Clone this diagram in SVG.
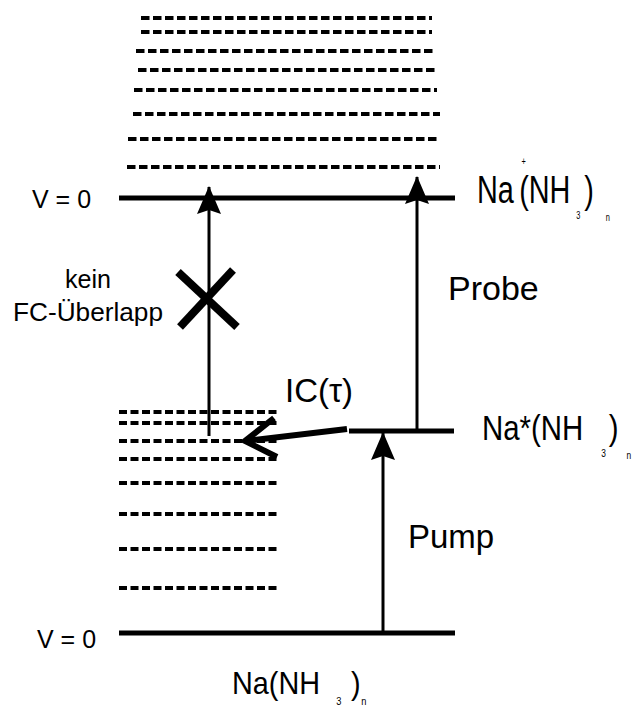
<svg xmlns="http://www.w3.org/2000/svg" width="635" height="706" viewBox="0 0 635 706">
<style>
text{font-family:"Liberation Sans",Arial,Helvetica,sans-serif;fill:#000}
.lvl{stroke:#000;stroke-width:5;fill:none}
.dash{stroke:#000;stroke-width:4;stroke-dasharray:8.5 3.5;fill:none}
.dashs{stroke:#000;stroke-width:4;stroke-dasharray:8 3.5;fill:none}
.arr{stroke:#000;stroke-width:3;fill:none}
.thick{stroke:#000;stroke-width:6;fill:none;stroke-linejoin:miter}
.cross{stroke:#000;stroke-width:8;fill:none}
.sub{font-size:10px}
</style>
<defs>
<marker id="ah" markerUnits="userSpaceOnUse" viewBox="0 0 28 24" refX="27" refY="12" markerWidth="28" markerHeight="24" orient="auto">
<path d="M0,0 L28,12 L0,24 L4,12 z" fill="#000"/>
</marker>
</defs>
<rect width="635" height="706" fill="#fff"/>
<g id="ion-vibrational-continuum">
<line class="dash" x1="141" y1="18" x2="432" y2="18"/>
<line class="dash" x1="141" y1="32" x2="432" y2="32"/>
<line class="dash" x1="136" y1="51" x2="435" y2="51"/>
<line class="dash" x1="138" y1="70" x2="435" y2="70"/>
<line class="dash" x1="134" y1="90" x2="437" y2="90"/>
<line class="dash" x1="133" y1="114" x2="440" y2="114"/>
<line class="dash" x1="128" y1="139" x2="440" y2="139"/>
<line class="dash" x1="127" y1="167" x2="440" y2="167"/>
</g>
<g id="ion-level">
<line class="lvl" x1="119" y1="198" x2="455" y2="198"/>
<text x="32" y="208" font-size="25">V = 0</text>
<text transform="translate(477,203) scale(0.74,1)" font-size="39"><tspan x="0" y="0">Na</tspan><tspan x="60" y="-38" class="sub">+</tspan><tspan x="57" y="0">(NH</tspan><tspan x="134" y="16" class="sub">3</tspan><tspan x="145" y="0">)</tspan><tspan x="174" y="18" class="sub">n</tspan></text>
</g>
<g id="ground-vibrational-levels">
<line class="dashs" x1="119" y1="412" x2="280" y2="412"/>
<line class="dashs" x1="119" y1="423" x2="280" y2="423"/>
<line class="dashs" x1="119" y1="441" x2="280" y2="441"/>
<line class="dashs" x1="119" y1="459" x2="280" y2="459"/>
<line class="dashs" x1="119" y1="483" x2="280" y2="483"/>
<line class="dashs" x1="119" y1="514" x2="280" y2="514"/>
<line class="dashs" x1="119" y1="549" x2="280" y2="549"/>
<line class="dashs" x1="119" y1="588" x2="280" y2="588"/>
</g>
<g id="excited-level">
<line class="lvl" x1="349" y1="431" x2="454" y2="431"/>
<text transform="translate(482,440) scale(0.84,1)" font-size="35"><tspan x="0" y="0">Na*(NH</tspan><tspan x="142" y="17" class="sub">3</tspan><tspan x="151" y="0">)</tspan><tspan x="172" y="19" class="sub">n</tspan></text>
</g>
<g id="ground-level">
<line class="lvl" x1="119" y1="633" x2="455" y2="633"/>
<text x="37" y="648" font-size="25">V = 0</text>
<text transform="translate(232,694) scale(0.93,1)" font-size="31"><tspan x="0" y="0">Na(NH</tspan><tspan x="112" y="11" class="sub">3</tspan><tspan x="128" y="0">)</tspan><tspan x="139" y="11" class="sub">n</tspan></text>
</g>
<g id="connectors">
<line class="arr" x1="209" y1="436" x2="209" y2="187" marker-end="url(#ah)"/>
<line class="arr" x1="417" y1="431" x2="417" y2="177" marker-end="url(#ah)"/>
<line class="arr" x1="383" y1="633" x2="383" y2="433" marker-end="url(#ah)"/>
<polyline class="thick" points="347,429 245,441"/>
<polyline class="thick" points="274,418 245,441 277,457"/>
<line class="cross" x1="178" y1="272" x2="237" y2="327"/>
<line class="cross" x1="233" y1="270" x2="180" y2="327"/>
</g>
<g id="labels">
<text x="88" y="288" font-size="25" text-anchor="middle" textLength="46" lengthAdjust="spacingAndGlyphs">kein</text>
<text x="88" y="321" font-size="25" text-anchor="middle" textLength="150" lengthAdjust="spacingAndGlyphs">FC-Überlapp</text>
<text x="448" y="300" font-size="34">Probe</text>
<text x="408" y="548" font-size="33">Pump</text>
<text x="285" y="402" font-size="33">IC(τ)</text>
</g>
</svg>
